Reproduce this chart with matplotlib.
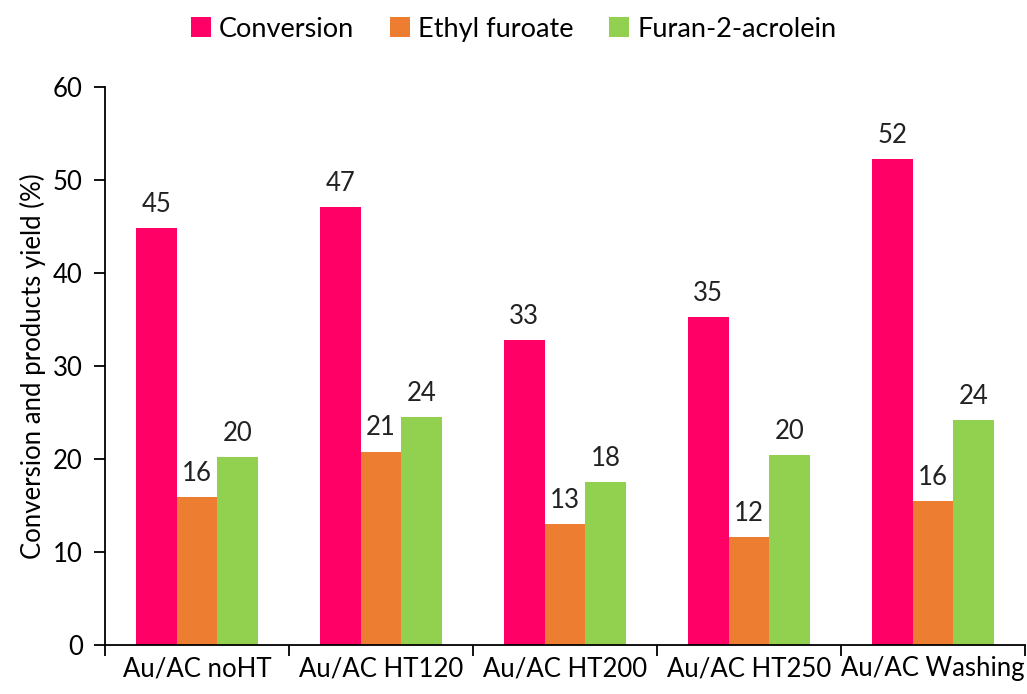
import numpy as np
import matplotlib.pyplot as plt

plt.rcParams['font.family'] = ['Lato', 'DejaVu Sans']

# Data
catalysts = ["Au/AC noHT", "Au/AC HT120", "Au/AC HT200", "Au/AC HT250", "Au/AC Washing"]
conversion = [44.8, 47.1, 32.8, 35.3, 52.3]
ethyl_furoate = [15.9, 20.8, 13.0, 11.6, 15.5]
furan_acrolein = [20.2, 24.5, 17.5, 20.4, 24.2]

series = [
    ("Conversion", conversion, "#FF0066"),
    ("Ethyl furoate", ethyl_furoate, "#ED7D31"),
    ("Furan-2-acrolein", furan_acrolein, "#92D050"),
]

fs = 18.5

fig = plt.figure(figsize=(10.27, 6.94), dpi=100)
ax = fig.add_axes([0.1022, 0.0706, 0.8958, 0.804])

x = np.arange(len(catalysts))
w = 0.221
for i, (name, vals, col) in enumerate(series):
    bars = ax.bar(x + (i - 1) * w, vals, w, color=col, label=name)
    for b, v in zip(bars, vals):
        ax.annotate(f"{v:.0f}", (b.get_x() + b.get_width() / 2, v),
                    xytext=(0, 8), textcoords="offset points",
                    ha="center", va="bottom", fontsize=fs, color="#222222")

ax.set_xlim(-0.5, len(catalysts) - 0.5)
ax.set_ylim(0, 60)
ax.set_yticks(range(0, 61, 10))
ax.tick_params(axis="y", labelsize=fs, length=8, width=1.3, direction="out", pad=8)

# category labels centered, tick marks at the boundaries
ax.set_xticks(np.arange(len(catalysts) + 1) - 0.5)
ax.set_xticklabels([])
ax.set_xticks(x, minor=True)
ax.set_xticklabels(catalysts, minor=True, fontsize=fs)
ax.tick_params(axis="x", which="major", length=8, width=1.3, direction="out")
ax.tick_params(axis="x", which="minor", length=0, pad=8)

for s in ["top", "right"]:
    ax.spines[s].set_visible(False)
for s in ["left", "bottom"]:
    ax.spines[s].set_linewidth(1.3)

ax.set_ylabel("Conversion and products yield (%)", fontsize=fs, labelpad=5)

fig.legend(loc="center", bbox_to_anchor=(0.5, 0.958), ncol=3, frameon=False,
           fontsize=19.5, handlelength=0.75, handleheight=0.75, handletextpad=0.3,
           columnspacing=1.3)

fig.savefig("out.png", dpi=100)
